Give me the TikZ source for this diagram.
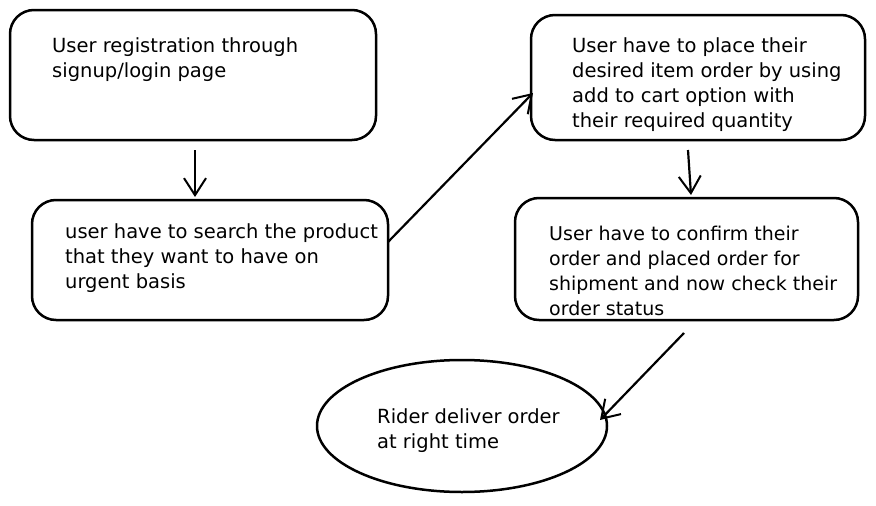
\documentclass[tikz,border=0pt]{standalone}
\usepackage{fontspec}
\setmainfont{DejaVu Sans}
\usetikzlibrary{arrows.meta,shapes.geometric}
\tikzset{
  box/.style={draw, line width=2.5pt, rounded corners=24pt, inner sep=0pt},
  txt/.style={anchor=north west, inner sep=0pt, align=left, font=\fontsize{19.5}{25}\selectfont},
  flow/.style={draw, line width=2.2pt, -{Straight Barb[length=17pt,width=22pt,line width=2pt]}},
}
\begin{document}
\begin{tikzpicture}[x=1pt,y=-1pt]
\useasboundingbox (0,0) rectangle (876,506);
\fill[white] (0,0) rectangle (876,506);
% boxes
\node[box, minimum width=366pt, minimum height=130pt] (A) at (193,75) {};
\node[box, minimum width=356pt, minimum height=120pt] (B) at (210,260) {};
\node[box, minimum width=334pt, minimum height=125pt] (C) at (698,77.5) {};
\node[box, minimum width=343pt, minimum height=122pt] (D) at (686.5,259) {};
\node[draw, line width=2.5pt, ellipse, minimum width=290pt, minimum height=132pt, inner sep=0pt] (E) at (462,426) {};
% texts
\node[txt] (tA) at (52,37) {User registration through\\signup/login page};
\node[txt] (tB) at (65,223) {user have to search the product\\that they want to have on\\urgent basis};
\node[txt] (tC) at (572,37) {User have to place their\\desired item order by using\\add to cart option with\\their required quantity};
\node[txt, font=\fontsize{19}{25}\selectfont] (tD) at (549,226) {User have to confirm their\\order and placed order for\\shipment and now check their\\order status};
\node[txt] (tE) at (377,408) {Rider deliver order\\at right time};
% connectors
\coordinate (a1) at (195,150);
\coordinate (a2) at (195,197);
\draw[flow] (a1) -- (a2);
\coordinate (b1) at (388,242);
\coordinate (b2) at (533,93);
\draw[flow] (b1) -- (b2);
\coordinate (c1) at (688,150);
\coordinate (c2) at (691,195);
\draw[flow] (c1) -- (c2);
\coordinate (d1) at (684,333);
\coordinate (d2) at (600,420);
\draw[flow] (d1) -- (d2);
\end{tikzpicture}
\end{document}
